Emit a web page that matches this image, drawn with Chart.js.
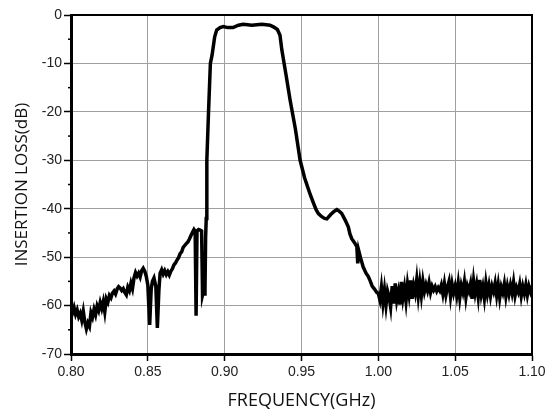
<!DOCTYPE html>
<html>
<head>
<meta charset="utf-8">
<script src="https://cdn.jsdelivr.net/npm/chart.js@4"></script>
<style>
  html, body { margin: 0; padding: 0; background: #fff; }
  #wrap { width: 553px; height: 412px; }
</style>
</head>
<body>
<div id="wrap"><canvas id="lossChart"></canvas></div>
<script>
// stopband below the passband (GHz / dB)
var lowFreq = [
  0.800, 0.801, 0.802, 0.803, 0.804, 0.805, 0.806, 0.807, 0.808, 0.809,
  0.810, 0.811, 0.812, 0.813, 0.814, 0.815, 0.816, 0.817, 0.818, 0.819,
  0.820, 0.821, 0.822, 0.823, 0.824, 0.825, 0.826, 0.827, 0.828, 0.829,
  0.830, 0.831, 0.832, 0.833, 0.834, 0.835, 0.836, 0.837, 0.838, 0.839,
  0.840, 0.841, 0.842, 0.843, 0.844, 0.845, 0.846, 0.847, 0.848, 0.849,
  0.850, 0.8512, 0.8522, 0.853, 0.854, 0.8552, 0.8562, 0.8572, 0.858, 0.859,
  0.860, 0.861, 0.862, 0.863, 0.864, 0.865, 0.866, 0.867, 0.868, 0.869,
  0.870, 0.871, 0.872, 0.873, 0.874, 0.875, 0.876, 0.877, 0.878, 0.879,
  0.880, 0.8808, 0.8814, 0.8820, 0.883, 0.884, 0.885, 0.8856, 0.8862, 0.8868,
  0.8872
];
var lowLoss = [
  -60.7, -61.5, -60.4, -61.8, -60.9, -62.3, -61.6, -63.0, -61.2, -63.4,
  -64.8, -63.6, -64.3, -61.5, -62.4, -60.8, -61.9, -60.1, -61.0, -59.4,
  -60.6, -59.2, -61.3, -58.6, -59.3, -57.9, -58.4, -57.4, -57.0, -57.6,
  -56.6, -56.1, -56.4, -56.9, -56.5, -57.3, -57.8, -56.2, -56.9, -55.4,
  -56.5, -54.3, -53.2, -53.9, -53.3, -54.1, -52.8, -52.3, -52.9, -54.0,
  -55.8, -64.0, -56.5, -55.0, -54.3, -56.0, -64.6, -56.8, -53.3, -52.6,
  -53.5, -52.8, -53.6, -53.0, -53.7, -52.9, -52.4, -51.6, -51.2, -50.6,
  -50.1, -49.3, -48.9, -48.0, -47.6, -47.2, -46.9, -46.3, -45.6, -44.9,
  -44.3, -44.7, -62.1, -44.6, -44.3, -44.4, -44.6, -57.8, -57.0, -57.6,
  -56.9
];

// passband and upper skirt
var bandFreq = [
  0.8876, 0.8880, 0.8883, 0.8885, 0.8895, 0.8907, 0.8918, 0.8935, 0.8948, 0.8970,
  0.8991, 0.9020, 0.9054, 0.9090, 0.9120, 0.9150, 0.9176, 0.9210, 0.9241, 0.9270,
  0.9295, 0.9320, 0.9343, 0.9360, 0.9372, 0.9400, 0.9426, 0.9460, 0.9491, 0.9520,
  0.9556, 0.9580, 0.9595, 0.9610, 0.9630, 0.9650, 0.9665, 0.9690, 0.9710, 0.9730,
  0.9745, 0.9762, 0.9785, 0.9805, 0.9815, 0.9827, 0.9845, 0.9860, 0.9866, 0.9872,
  0.9885, 0.9901, 0.9920, 0.9935, 0.9947, 0.9960, 0.9975, 0.9990
];
var bandLoss = [
  -46.0, -42.0, -38.0, -30.0, -20.0, -10.0, -8.3, -4.5, -3.1, -2.6,
  -2.4, -2.6, -2.6, -2.1, -1.9, -2.0, -2.1, -2.0, -1.9, -2.0,
  -2.1, -2.5, -3.0, -4.2, -7.2, -12.5, -17.6, -23.5, -30.0, -33.6,
  -37.0, -39.0, -40.2, -41.0, -41.6, -42.0, -42.1, -41.2, -40.6, -40.2,
  -40.5, -41.0, -42.4, -43.8, -45.2, -46.2, -47.0, -47.8, -51.3, -48.6,
  -50.2, -52.0, -53.3, -54.0, -54.9, -56.0, -56.6, -57.3
];

// upper stopband noise floor, 1.000 .. 1.100 GHz in 1 MHz steps
var highFreq = [
  1.000, 1.001, 1.002, 1.003, 1.004, 1.005, 1.006, 1.007, 1.008, 1.009,
  1.010, 1.011, 1.012, 1.013, 1.014, 1.015, 1.016, 1.017, 1.018, 1.019,
  1.020, 1.021, 1.022, 1.023, 1.024, 1.025, 1.026, 1.027, 1.028, 1.029,
  1.030, 1.031, 1.032, 1.033, 1.034, 1.035, 1.036, 1.037, 1.038, 1.039,
  1.040, 1.041, 1.042, 1.043, 1.044, 1.045, 1.046, 1.047, 1.048, 1.049,
  1.050, 1.051, 1.052, 1.053, 1.054, 1.055, 1.056, 1.057, 1.058, 1.059,
  1.060, 1.061, 1.062, 1.063, 1.064, 1.065, 1.066, 1.067, 1.068, 1.069,
  1.070, 1.071, 1.072, 1.073, 1.074, 1.075, 1.076, 1.077, 1.078, 1.079,
  1.080, 1.081, 1.082, 1.083, 1.084, 1.085, 1.086, 1.087, 1.088, 1.089,
  1.090, 1.091, 1.092, 1.093, 1.094, 1.095, 1.096, 1.097, 1.098, 1.099,
  1.100
];
var highLoss = [
  -57.5, -58.8, -56.2, -59.5, -56.8, -59.9, -57.0, -58.2, -60.3, -56.0,
  -59.6, -55.4, -58.9, -57.2, -59.8, -55.1, -58.4, -56.3, -59.1, -55.6,
  -57.8, -54.8, -58.6, -55.9, -57.4, -54.6, -58.0, -55.2, -57.9, -55.0,
  -57.1, -55.7, -56.9, -55.3, -57.3, -56.0, -56.8, -56.1, -57.0, -56.3,
  -56.9, -55.8, -57.6, -55.5, -57.8, -56.2, -55.0, -58.1, -55.6, -57.4,
  -56.0, -57.9, -55.4, -58.4, -55.9, -57.2, -55.1, -58.3, -56.0, -57.0,
  -55.5, -58.6, -54.9, -57.4, -55.6, -58.2, -54.7, -57.7, -56.1, -58.5,
  -55.3, -57.6, -55.8, -58.0, -56.0, -57.1, -55.4, -57.9, -55.7, -58.4,
  -56.2, -57.3, -55.5, -58.1, -56.0, -57.6, -55.8, -57.4, -55.2, -57.9,
  -56.3, -57.2, -55.6, -58.0, -56.1, -57.5, -55.7, -57.8, -56.0, -57.1,
  -55.9
];

var freqTicks = [0.80, 0.85, 0.90, 0.95, 1.00, 1.05, 1.10];
var lossTicks = [0, -10, -20, -30, -40, -50, -60, -70];

var freq = lowFreq.concat(bandFreq, highFreq);
var loss = lowLoss.concat(bandLoss, highLoss);
var points = freq.map(function (f, i) { return { x: f, y: loss[i] }; });

// frame on top/right + minor ticks on the left axis
var framePlugin = {
  id: 'frame',
  afterDraw: function (chart) {
    var ctx = chart.ctx, a = chart.chartArea, ys = chart.scales.y;
    ctx.save();
    ctx.strokeStyle = '#000';
    ctx.lineWidth = 2;
    ctx.beginPath();
    ctx.moveTo(a.left, a.top);
    ctx.lineTo(a.right, a.top);
    ctx.lineTo(a.right, a.bottom);
    ctx.stroke();
    ctx.lineWidth = 1.5;
    for (var v = -65; v < 0; v += 10) {
      var py = ys.getPixelForValue(v);
      ctx.beginPath();
      ctx.moveTo(a.left - 3, py);
      ctx.lineTo(a.left, py);
      ctx.stroke();
    }
    ctx.restore();
  }
};

var ctx = document.getElementById('lossChart');
var lossChart = new Chart(ctx, {
  type: 'scatter',
  data: {
    datasets: [{
      data: points,
      showLine: true,
      borderColor: '#000',
      borderWidth: 3.5,
      pointRadius: 0,
      tension: 0
    }]
  },
  options: {
    responsive: true,
    maintainAspectRatio: false,
    animation: false,
    layout: { padding: { top: 15, right: 21, bottom: 0, left: 0 } },
    plugins: { legend: { display: false }, tooltip: { enabled: false } },
    scales: {
      x: {
        type: 'linear',
        min: 0.80, max: 1.10,
        afterBuildTicks: function (s) { s.ticks = freqTicks.map(function (v) { return { value: v }; }); },
        afterFit: function (s) { s.height = 58; },
        grid: { color: '#a0a0a0', lineWidth: 1, tickColor: '#000', tickLength: 7, tickWidth: 1.5 },
        border: { color: '#000', width: 3 },
        ticks: {
          color: '#222', padding: 3, maxRotation: 0,
          font: { family: '"Liberation Sans", Arial, sans-serif', size: 14 },
          callback: function (v) { return v.toFixed(2); }
        },
        title: {
          display: true, text: 'FREQUENCY(GHz)', color: '#111',
          font: { family: '"Open Sans", sans-serif', size: 18 },
          padding: { top: 0, bottom: 0 }
        }
      },
      y: {
        min: -70, max: 0,
        afterBuildTicks: function (s) { s.ticks = lossTicks.map(function (v) { return { value: v }; }); },
        afterFit: function (s) { s.width = 71; },
        grid: { color: '#a0a0a0', lineWidth: 1, tickColor: '#000', tickLength: 7, tickWidth: 1.5 },
        border: { color: '#000', width: 3 },
        ticks: {
          color: '#222', padding: 2,
          font: { family: '"Liberation Sans", Arial, sans-serif', size: 14 },
          callback: function (v) { return String(v); }
        },
        title: {
          display: true, text: 'INSERTION LOSS(dB)', color: '#111',
          font: { family: '"Open Sans", sans-serif', size: 17 },
          padding: { top: 12, bottom: 12 }
        }
      }
    }
  },
  plugins: [framePlugin]
});
</script>
</body>
</html>
